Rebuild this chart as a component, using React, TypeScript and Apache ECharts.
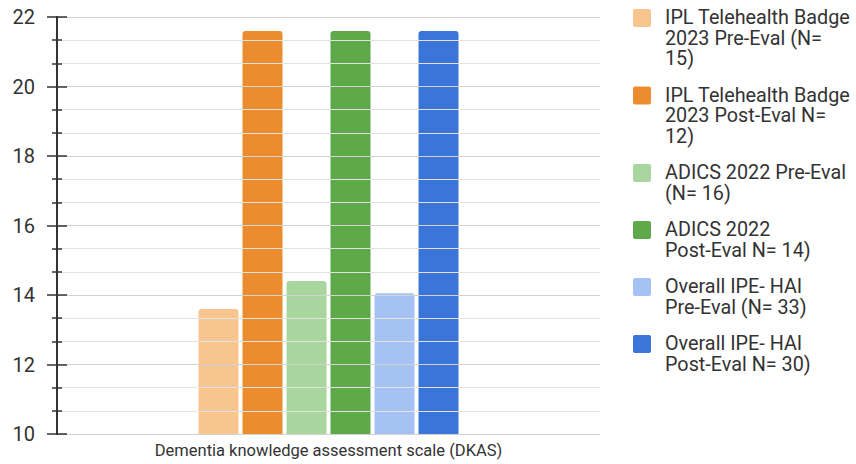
import React, { useEffect, useRef } from "react";
import * as echarts from "echarts";

// Chart data
const categories = ["Dementia knowledge assessment scale (DKAS)"];
const seriesNames = [
  "IPL Telehealth Badge\n2023 Pre-Eval (N=\n15)",
  "IPL Telehealth Badge\n2023 Post-Eval N=\n12)",
  "ADICS 2022 Pre-Eval\n(N= 16)",
  "ADICS 2022\nPost-Eval N= 14)",
  "Overall IPE- HAI\nPre-Eval (N= 33)",
  "Overall IPE- HAI\nPost-Eval N= 30)",
];
const seriesValues = [13.6, 21.6, 14.4, 21.6, 14.05, 21.6];
const seriesColors = ["#f9c58f", "#eb8d2f", "#a9d59e", "#5ea94a", "#a5c2f4", "#3a76da"];
const yMin = 10;
const yMax = 22;
const yInterval = 2;

const FONT = "Roboto, 'Noto Sans', sans-serif";
const TEXT = "#333333";

// Hand-built legend: swatch aligned with the first line of each wrapped name
function buildLegend(): any[] {
  const els: any[] = [];
  const lineH = 20.5;
  const gap = 16;
  let top = 7.5;
  seriesNames.forEach((name, i) => {
    const lines = name.split("\n").length;
    els.push({
      type: "rect",
      shape: { x: 633, y: top + 1.5, width: 18, height: 18, r: 2 },
      style: { fill: seriesColors[i] },
    });
    els.push({
      type: "text",
      x: 665,
      y: top,
      style: {
        text: name,
        font: `19.8px ${FONT}`,
        lineHeight: lineH,
        fill: TEXT,
        verticalAlign: "top",
        align: "left",
      },
    });
    top += lines * lineH + gap;
  });
  return els;
}

export default function App() {
  const ref = useRef<HTMLDivElement>(null);

  useEffect(() => {
    if (!ref.current) return;
    const chart = echarts.init(ref.current, null, { renderer: "svg" });
    const grid = { left: 57, right: 256, top: 17, bottom: 30 };
    const baseY = {
      type: "value",
      min: yMin,
      max: yMax,
      interval: yInterval,
      position: "left",
      axisLine: { show: true, lineStyle: { color: "#333", width: 2 } },
      minorTick: { show: true, splitNumber: 3, length: 5, lineStyle: { color: "#333", width: 1.5 } },
    };
    chart.setOption({
      animation: false,
      grid,
      textStyle: { fontFamily: FONT },
      xAxis: {
        type: "category",
        data: categories,
        axisLine: { show: false },
        axisTick: { show: false },
        axisLabel: { color: TEXT, fontSize: 16.5, margin: 8, fontFamily: FONT },
      },
      yAxis: [
        {
          ...baseY,
          axisTick: { show: true, length: 10, lineStyle: { color: "#333", width: 1.5 } },
          axisLabel: { color: TEXT, fontSize: 20, margin: 22, fontFamily: FONT },
          splitLine: { show: true, lineStyle: { color: "#d2d2d2", width: 1 } },
          minorSplitLine: { show: true, lineStyle: { color: "#e2e2e2", width: 1 } },
          z: 3,
        },
        {
          ...baseY,
          axisTick: { show: true, inside: true, length: 10, lineStyle: { color: "#333", width: 1.5 } },
          axisLabel: { show: false },
          splitLine: { show: false },
          z: 3,
        },
      ],
      series: seriesNames.map((name, i) => ({
        type: "bar",
        name,
        data: [seriesValues[i]],
        yAxisIndex: 0,
        barWidth: 40,
        barGap: "10%",
        itemStyle: { color: seriesColors[i], borderRadius: [3, 3, 0, 0] },
      })),
      graphic: buildLegend(),
    });
    return () => chart.dispose();
  }, []);

  return (
    <div
      ref={ref}
      style={{ position: "absolute", left: 0, top: 0, width: 856, height: 464 }}
    />
  );
}
